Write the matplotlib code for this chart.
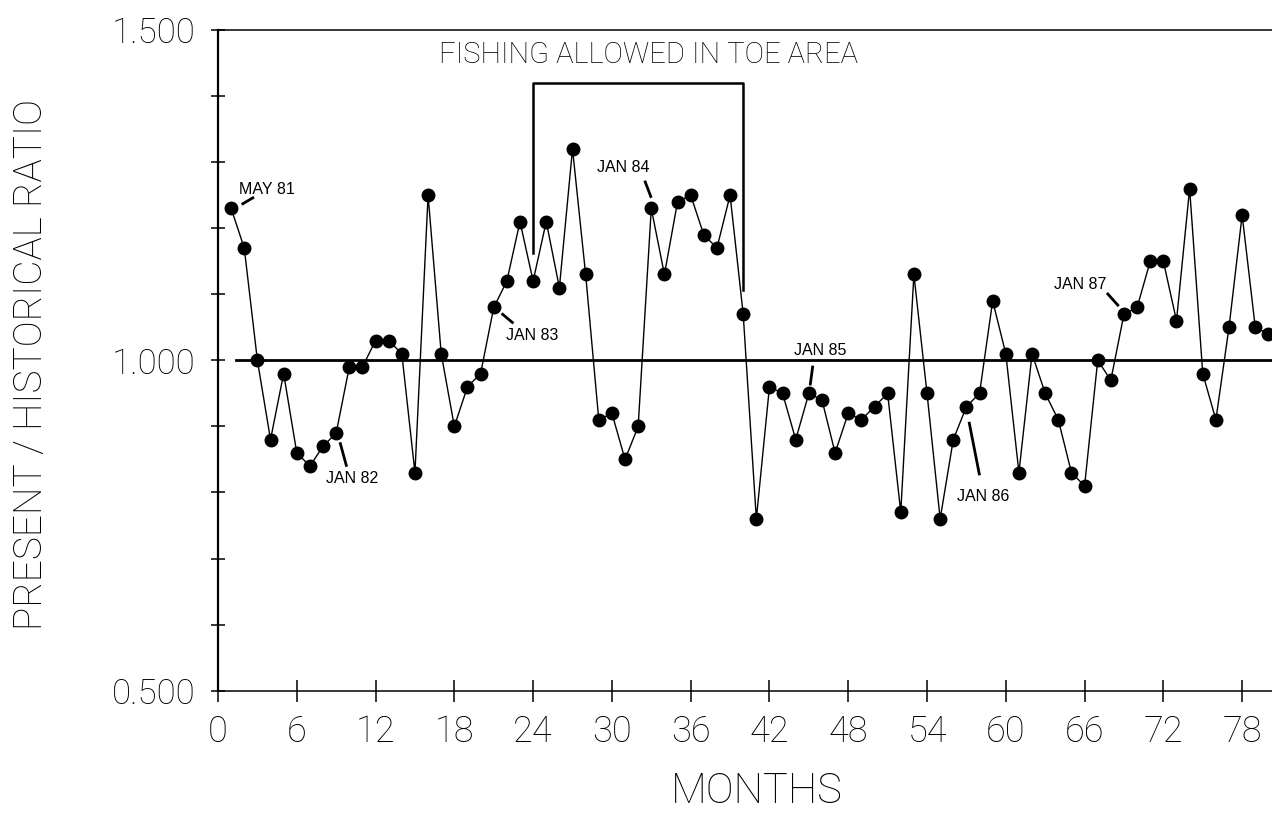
import matplotlib
matplotlib.use('Agg')
import matplotlib.pyplot as plt
from matplotlib.ticker import FixedLocator, FuncFormatter
import numpy as np

# monthly present / historical catch ratio, starting May 1981
months = np.arange(1, 81)
ratio = [
    1.23, 1.17, 1.00, 0.88, 0.98, 0.86, 0.84, 0.87, 0.89, 0.99,
    0.99, 1.03, 1.03, 1.01, 0.83, 1.25, 1.01, 0.90, 0.96, 0.98,
    1.08, 1.12, 1.21, 1.12, 1.21, 1.11, 1.32, 1.13, 0.91, 0.92,
    0.85, 0.90, 1.23, 1.13, 1.24, 1.25, 1.19, 1.17, 1.25, 1.07,
    0.76, 0.96, 0.95, 0.88, 0.95, 0.94, 0.86, 0.92, 0.91, 0.93,
    0.95, 0.77, 1.13, 0.95, 0.76, 0.88, 0.93, 0.95, 1.09, 1.01,
    0.83, 1.01, 0.95, 0.91, 0.83, 0.81, 1.00, 0.97, 1.07, 1.08,
    1.15, 1.15, 1.06, 1.26, 0.98, 0.91, 1.05, 1.22, 1.05, 1.04,
]

x_ticks = list(range(0, 79, 6))
y_ticks = [0.5, 0.6, 0.7, 0.8, 0.9, 1.0, 1.1, 1.2, 1.3, 1.4, 1.5]
y_labelled = [0.5, 1.0, 1.5]

# period when fishing was open in the toe area
fish_start, fish_end = 24, 40
fish_label = "FISHING ALLOWED IN TOE AREA"

notes = ["MAY 81", "JAN 82", "JAN 83", "JAN 84", "JAN 85", "JAN 86", "JAN 87"]
note_pos = [(1.6, 1.258), (8.2, 0.821), (21.9, 1.038), (28.9, 1.292),
            (43.9, 1.015), (56.3, 0.794), (63.7, 1.115)]
note_lead = [((1.8, 1.236), (2.74, 1.247)),
             ((9.29, 0.876), (9.80, 0.839)),
             ((21.6, 1.071), (22.5, 1.056)),
             ((32.5, 1.272), (33.0, 1.246)),
             ((45.3, 0.992), (45.1, 0.962)),
             ((57.2, 0.907), (58.0, 0.826)),
             ((67.7, 1.102), (68.6, 1.082))]

THIN = dict(family=['Roboto', 'DejaVu Sans'], fontweight='light')
plt.rcParams['font.family'] = ['Roboto', 'DejaVu Sans']

W, H = 1272, 814
fig = plt.figure(figsize=(W / 100, H / 100), dpi=100)
left, bottom, top = 218, 690.7, 30
ax = fig.add_axes([left / W, (H - bottom) / H, 1 - left / W, (bottom - top) / H])
ax.set_xlim(0, (W - left) / 13.13)
ax.set_ylim(0.5, 1.5)

ax.spines['right'].set_visible(False)
ax.spines['left'].set_linewidth(1.6)
ax.spines['bottom'].set_linewidth(1.1)
ax.spines['top'].set_linewidth(1.1)

ax.xaxis.set_major_locator(FixedLocator(x_ticks))
ax.yaxis.set_major_locator(FixedLocator(y_ticks))
ax.yaxis.set_major_formatter(FuncFormatter(
    lambda v, p: f"{v:.3f}" if any(abs(v - t) < 1e-6 for t in y_labelled) else ""))
ax.tick_params(axis='x', direction='inout', length=16, width=1.1, pad=9, labelsize=26)
ax.tick_params(axis='y', direction='inout', length=10, width=1.1, pad=11, labelsize=25)
for lab in ax.get_xticklabels() + ax.get_yticklabels():
    lab.set_fontweight('light')

# reference line at ratio = 1
ax.plot([1.35, 81], [1.0, 1.0], color='black', lw=2.0, zorder=2)

ax.plot(months, ratio, color='black', lw=1.0, marker='o', markersize=9,
        markerfacecolor='black', markeredgecolor='black', zorder=3)

# bracket over the open-fishing months
i0, i1 = fish_start - 1, fish_end - 1
ax.plot([fish_start, fish_start, fish_end, fish_end],
        [ratio[i0] + 0.042, 1.42, 1.42, ratio[i1] + 0.036],
        color='black', lw=1.8, zorder=2)
ax.text((fish_start + fish_end) / 2 + 0.8, 1.462, fish_label,
        ha='center', va='center', fontsize=21, **THIN)

for txt, (tx, ty), (p0, p1) in zip(notes, note_pos, note_lead):
    ax.text(tx, ty, txt, ha='left', va='center', fontsize=11.5,
            family=['Liberation Sans', 'DejaVu Sans'])
    ax.plot([p0[0], p1[0]], [p0[1], p1[1]], color='black', lw=2.0,
            solid_capstyle='butt', zorder=2)

fig.text(31 / W, 1 - 365 / H, "PRESENT / HISTORICAL RATIO", rotation=90,
         ha='center', va='center', fontsize=28, **THIN)
fig.text(757 / W, 1 - 803 / H, "MONTHS", ha='center', va='baseline',
         fontsize=30, **THIN)

fig.savefig('out.png', dpi=100)
